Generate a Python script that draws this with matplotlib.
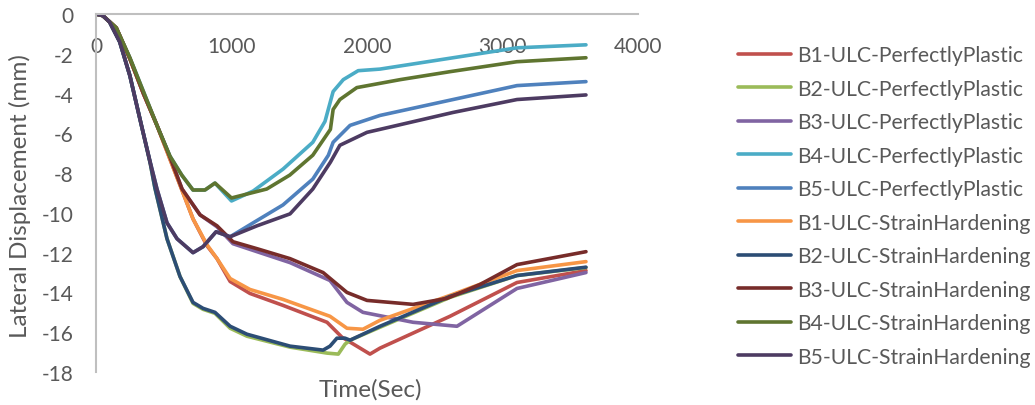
import matplotlib
matplotlib.use("Agg")
import matplotlib.pyplot as plt

plt.rcParams['font.family'] = ['Lato', 'DejaVu Sans']

labels = ["B1-ULC-PerfectlyPlastic", "B2-ULC-PerfectlyPlastic", "B3-ULC-PerfectlyPlastic",
          "B4-ULC-PerfectlyPlastic", "B5-ULC-PerfectlyPlastic", "B1-ULC-StrainHardening",
          "B2-ULC-StrainHardening", "B3-ULC-StrainHardening", "B4-ULC-StrainHardening",
          "B5-ULC-StrainHardening"]
colors = ["#C0504D", "#9BBB59", "#8064A2", "#4BACC6", "#4F81BD",
          "#F79646", "#2C4D75", "#772C2A", "#5F7530", "#4D3B62"]

t_b1_pp = [0, 50, 150, 250, 350, 450, 546, 620, 716, 819, 893, 990, 1136, 1380, 1705, 1815, 2022, 2096, 2612, 3107, 3616]
v_b1_pp = [0, -0.08, -0.7, -2.25, -4.0, -5.6, -7.3, -8.6, -10.3, -11.65, -12.3, -13.45, -14.05, -14.65, -15.5, -16.25, -17.1, -16.8, -15.2, -13.5, -12.9]

t_b2_pp = [0, 50, 100, 175, 250, 325, 400, 435, 524, 620, 716, 790, 878, 990, 1114, 1432, 1705, 1788, 1838, 1875, 2096, 2612, 3107, 3616]
v_b2_pp = [0, -0.08, -0.4, -1.4, -3.1, -5.3, -7.5, -8.75, -11.3, -13.2, -14.55, -14.85, -15.05, -15.8, -16.2, -16.75, -17.05, -17.1, -16.6, -16.4, -15.75, -14.25, -13.15, -12.75]

t_b3_pp = [0, 50, 150, 250, 350, 450, 546, 635, 768, 893, 1011, 1188, 1432, 1727, 1852, 1970, 2340, 2664, 3107, 3616]
v_b3_pp = [0, -0.08, -0.7, -2.25, -4.0, -5.6, -7.2, -8.8, -10.1, -10.7, -11.55, -11.95, -12.5, -13.4, -14.5, -15.0, -15.5, -15.7, -13.8, -13.0]

t_b4_pp = [0, 50, 150, 250, 350, 450, 546, 633, 716, 804, 878, 1000, 1160, 1380, 1600, 1690, 1750, 1825, 1935, 2096, 2635, 3107, 3616]
v_b4_pp = [0, -0.08, -0.7, -2.2, -3.9, -5.6, -7.15, -8.1, -8.85, -8.85, -8.5, -9.4, -8.9, -7.8, -6.45, -5.4, -3.9, -3.3, -2.85, -2.77, -2.2, -1.7, -1.55]

t_b5_pp = [0, 50, 100, 175, 250, 325, 400, 450, 524, 598, 716, 790, 886, 990, 1160, 1380, 1600, 1715, 1750, 1875, 2096, 2635, 3107, 3616]
v_b5_pp = [0, -0.08, -0.4, -1.4, -3.1, -5.3, -7.45, -8.8, -10.5, -11.3, -12.0, -11.7, -10.95, -11.2, -10.5, -9.6, -8.3, -7.1, -6.45, -5.6, -5.1, -4.3, -3.6, -3.4]

t_b1_sh = [0, 50, 150, 250, 350, 450, 546, 620, 716, 819, 893, 990, 1136, 1380, 1727, 1852, 1970, 2096, 2612, 3107, 3616]
v_b1_sh = [0, -0.08, -0.7, -2.25, -4.0, -5.6, -7.3, -8.6, -10.3, -11.6, -12.3, -13.3, -13.85, -14.35, -15.2, -15.8, -15.85, -15.4, -14.15, -12.9, -12.45]

t_b2_sh = [0, 50, 100, 175, 250, 325, 400, 435, 524, 620, 716, 790, 878, 990, 1114, 1432, 1676, 1727, 1778, 1838, 1875, 2096, 2612, 3107, 3616]
v_b2_sh = [0, -0.08, -0.4, -1.4, -3.1, -5.3, -7.5, -8.75, -11.3, -13.2, -14.5, -14.8, -15.0, -15.7, -16.1, -16.7, -16.9, -16.7, -16.3, -16.3, -16.4, -15.7, -14.2, -13.15, -12.73]

t_b3_sh = [0, 50, 150, 250, 350, 450, 546, 635, 768, 893, 1011, 1188, 1432, 1676, 1852, 2000, 2340, 2590, 2834, 3107, 3616]
v_b3_sh = [0, -0.08, -0.7, -2.25, -4.0, -5.6, -7.2, -8.8, -10.1, -10.65, -11.45, -11.8, -12.3, -13.0, -14.0, -14.4, -14.6, -14.3, -13.6, -12.6, -11.95]

t_b4_sh = [0, 50, 150, 250, 350, 450, 546, 633, 716, 804, 878, 1000, 1260, 1430, 1600, 1730, 1750, 1800, 1925, 2245, 2612, 3105, 3616]
v_b4_sh = [0, -0.08, -0.7, -2.2, -3.9, -5.6, -7.15, -8.1, -8.85, -8.85, -8.5, -9.25, -8.8, -8.1, -7.1, -5.8, -4.8, -4.3, -3.7, -3.3, -2.9, -2.4, -2.2]

t_b5_sh = [0, 50, 100, 175, 250, 325, 400, 450, 524, 598, 716, 790, 886, 990, 1188, 1432, 1600, 1730, 1800, 2000, 2096, 2635, 3107, 3616]
v_b5_sh = [0, -0.08, -0.4, -1.4, -3.1, -5.3, -7.45, -8.8, -10.5, -11.3, -12.0, -11.7, -10.95, -11.2, -10.65, -10.05, -8.8, -7.45, -6.6, -5.95, -5.8, -4.95, -4.3, -4.07]

series_t = [t_b1_pp, t_b2_pp, t_b3_pp, t_b4_pp, t_b5_pp, t_b1_sh, t_b2_sh, t_b3_sh, t_b4_sh, t_b5_sh]
series_v = [v_b1_pp, v_b2_pp, v_b3_pp, v_b4_pp, v_b5_pp, v_b1_sh, v_b2_sh, v_b3_sh, v_b4_sh, v_b5_sh]

x_ticks = [0, 1000, 2000, 3000, 4000]
y_ticks = list(range(-18, 1, 2))

W, H = 1035, 406
fig = plt.figure(figsize=(W / 100, H / 100), dpi=100)
ax = fig.add_axes([96 / W, 1 - 373 / H, (638 - 96) / W, (373 - 15) / H])

for t, v, c, lab in zip(series_t, series_v, colors, labels):
    ax.plot(t, v, color=c, lw=2.6, label=lab, solid_joinstyle='round', solid_capstyle='round')

ax.set_xlim(0, 4000)
ax.set_ylim(-18, 0)
ax.set_xticks(x_ticks)
ax.set_yticks(y_ticks)
ax.set_yticklabels([str(y) for y in y_ticks])

grey = "#BFBFBF"
txt = "#595959"
for s in ["right", "top"]:
    ax.spines[s].set_visible(False)
ax.spines["bottom"].set_position(("data", 0))
ax.spines["bottom"].set_color(grey)
ax.spines["bottom"].set_linewidth(1.5)
ax.spines["left"].set_color(grey)
ax.spines["left"].set_linewidth(1.5)
ax.tick_params(axis="x", length=0, pad=16, labelsize=15, colors=txt)
ax.tick_params(axis="y", length=0, pad=16, labelsize=15, colors=txt)

fig.text(20 / W, 1 - 196 / H, "Lateral Displacement (mm)", rotation=90, ha="center", va="center",
         fontsize=17.5, color=txt)
fig.text(370 / W, 1 - 390 / H, "Time(Sec)", ha="center", va="center", fontsize=17.5, color=txt)

leg = fig.legend(loc="upper left", bbox_to_anchor=(738 / W, 1 - 46 / H), frameon=False,
                 fontsize=15.2, handlelength=2.5, handletextpad=0.28, labelspacing=0.64,
                 borderaxespad=0, borderpad=0)
for txt_obj in leg.get_texts():
    txt_obj.set_color(txt)

fig.savefig("out.png", dpi=100)
